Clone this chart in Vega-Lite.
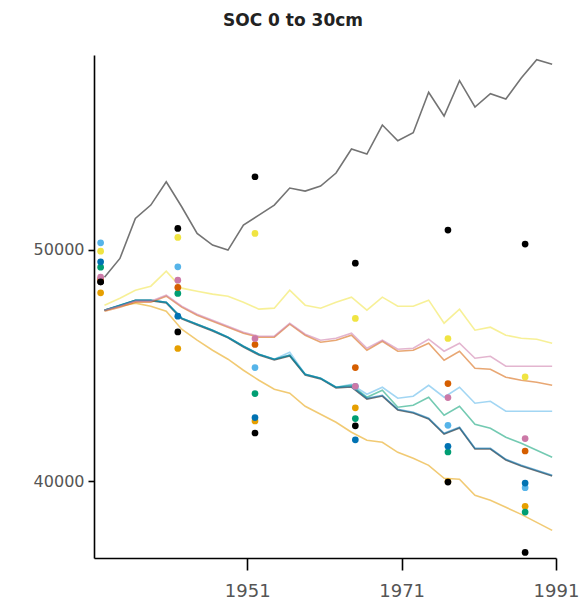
{
  "$schema": "https://vega.github.io/schema/vega-lite/v6.json",
  "width": 462,
  "height": 503,
  "autosize": "none",
  "padding": {"left": 94, "top": 55, "right": 27, "bottom": 52},
  "background": "white",
  "title": {"text": "SOC 0 to 30cm", "font": "DejaVu Sans", "fontSize": 17, "fontWeight": "bold", "color": "#222222", "anchor": "middle", "dx": -32, "offset": 25},
  "config": {
    "view": {"stroke": null},
    "axis": {"grid": false, "domainColor": "#000000", "domainWidth": 1.6, "tickColor": "#000000", "tickWidth": 1.6, "labelFont": "DejaVu Sans", "labelColor": "#555555", "title": null}
  },
  "datasets": {
    "lines": [
      {"s":"s9","t":1932.5,"v":47386},{"s":"s9","t":1934.5,"v":47580},{"s":"s9","t":1936.5,"v":47800},{"s":"s9","t":1938.5,"v":47800},{"s":"s9","t":1940.5,"v":47700},{"s":"s9","t":1942.5,"v":47010},{"s":"s9","t":1944.5,"v":46750},{"s":"s9","t":1946.5,"v":46490},{"s":"s9","t":1948.5,"v":46190},{"s":"s9","t":1950.5,"v":45800},{"s":"s9","t":1952.5,"v":45450},{"s":"s9","t":1954.5,"v":45240},{"s":"s9","t":1956.5,"v":45410},{"s":"s9","t":1958.5,"v":44590},{"s":"s9","t":1960.5,"v":44420},{"s":"s9","t":1962.5,"v":44030},{"s":"s9","t":1964.5,"v":44070},{"s":"s9","t":1966.5,"v":43550},{"s":"s9","t":1968.5,"v":43680},{"s":"s9","t":1970.5,"v":43080},{"s":"s9","t":1972.5,"v":42950},{"s":"s9","t":1974.5,"v":42690},{"s":"s9","t":1976.5,"v":42040},{"s":"s9","t":1978.5,"v":42300},{"s":"s9","t":1980.5,"v":41395},{"s":"s9","t":1982.5,"v":41395},{"s":"s9","t":1984.5,"v":40920},{"s":"s9","t":1986.5,"v":40660},{"s":"s9","t":1988.5,"v":40445},{"s":"s9","t":1990.5,"v":40230},
      {"s":"s1","t":1932.5,"v":48812},{"s":"s1","t":1934.5,"v":49620},{"s":"s1","t":1936.5,"v":51348},{"s":"s1","t":1938.5,"v":51922},{"s":"s1","t":1940.5,"v":52929},{"s":"s1","t":1942.5,"v":51849},{"s":"s1","t":1944.5,"v":50700},{"s":"s1","t":1946.5,"v":50194},{"s":"s1","t":1948.5,"v":49978},{"s":"s1","t":1950.5,"v":51058},{"s":"s1","t":1952.5,"v":51490},{"s":"s1","t":1954.5,"v":51922},{"s":"s1","t":1956.5,"v":52657},{"s":"s1","t":1958.5,"v":52527},{"s":"s1","t":1960.5,"v":52743},{"s":"s1","t":1962.5,"v":53305},{"s":"s1","t":1964.5,"v":54341},{"s":"s1","t":1966.5,"v":54125},{"s":"s1","t":1968.5,"v":55378},{"s":"s1","t":1970.5,"v":54700},{"s":"s1","t":1972.5,"v":55045},{"s":"s1","t":1974.5,"v":56790},{"s":"s1","t":1976.5,"v":55767},{"s":"s1","t":1978.5,"v":57292},{"s":"s1","t":1980.5,"v":56156},{"s":"s1","t":1982.5,"v":56730},{"s":"s1","t":1984.5,"v":56501},{"s":"s1","t":1986.5,"v":57408},{"s":"s1","t":1988.5,"v":58199},{"s":"s1","t":1990.5,"v":58000},
      {"s":"s2","t":1932.5,"v":47386},{"s":"s2","t":1934.5,"v":47559},{"s":"s2","t":1936.5,"v":47689},{"s":"s2","t":1938.5,"v":47559},{"s":"s2","t":1940.5,"v":47343},{"s":"s2","t":1942.5,"v":46565},{"s":"s2","t":1944.5,"v":46090},{"s":"s2","t":1946.5,"v":45658},{"s":"s2","t":1948.5,"v":45270},{"s":"s2","t":1950.5,"v":44794},{"s":"s2","t":1952.5,"v":44362},{"s":"s2","t":1954.5,"v":43974},{"s":"s2","t":1956.5,"v":43801},{"s":"s2","t":1958.5,"v":43239},{"s":"s2","t":1960.5,"v":42894},{"s":"s2","t":1962.5,"v":42548},{"s":"s2","t":1964.5,"v":42116},{"s":"s2","t":1966.5,"v":41770},{"s":"s2","t":1968.5,"v":41684},{"s":"s2","t":1970.5,"v":41252},{"s":"s2","t":1972.5,"v":40993},{"s":"s2","t":1974.5,"v":40690},{"s":"s2","t":1976.5,"v":40129},{"s":"s2","t":1978.5,"v":40086},{"s":"s2","t":1980.5,"v":39394},{"s":"s2","t":1982.5,"v":39178},{"s":"s2","t":1984.5,"v":38876},{"s":"s2","t":1986.5,"v":38574},{"s":"s2","t":1988.5,"v":38228},{"s":"s2","t":1990.5,"v":37882},
      {"s":"s3","t":1932.5,"v":47386},{"s":"s3","t":1934.5,"v":47602},{"s":"s3","t":1936.5,"v":47818},{"s":"s3","t":1938.5,"v":47818},{"s":"s3","t":1940.5,"v":47732},{"s":"s3","t":1942.5,"v":47041},{"s":"s3","t":1944.5,"v":46782},{"s":"s3","t":1946.5,"v":46522},{"s":"s3","t":1948.5,"v":46220},{"s":"s3","t":1950.5,"v":45831},{"s":"s3","t":1952.5,"v":45486},{"s":"s3","t":1954.5,"v":45270},{"s":"s3","t":1956.5,"v":45572},{"s":"s3","t":1958.5,"v":44622},{"s":"s3","t":1960.5,"v":44449},{"s":"s3","t":1962.5,"v":44060},{"s":"s3","t":1964.5,"v":44190},{"s":"s3","t":1966.5,"v":43758},{"s":"s3","t":1968.5,"v":44060},{"s":"s3","t":1970.5,"v":43585},{"s":"s3","t":1972.5,"v":43671},{"s":"s3","t":1974.5,"v":44146},{"s":"s3","t":1976.5,"v":43628},{"s":"s3","t":1978.5,"v":44060},{"s":"s3","t":1980.5,"v":43369},{"s":"s3","t":1982.5,"v":43455},{"s":"s3","t":1984.5,"v":43023},{"s":"s3","t":1986.5,"v":43023},{"s":"s3","t":1988.5,"v":43023},{"s":"s3","t":1990.5,"v":43023},
      {"s":"s4","t":1932.5,"v":47386},{"s":"s4","t":1934.5,"v":47602},{"s":"s4","t":1936.5,"v":47818},{"s":"s4","t":1938.5,"v":47818},{"s":"s4","t":1940.5,"v":47732},{"s":"s4","t":1942.5,"v":47041},{"s":"s4","t":1944.5,"v":46782},{"s":"s4","t":1946.5,"v":46522},{"s":"s4","t":1948.5,"v":46220},{"s":"s4","t":1950.5,"v":45831},{"s":"s4","t":1952.5,"v":45486},{"s":"s4","t":1954.5,"v":45270},{"s":"s4","t":1956.5,"v":45442},{"s":"s4","t":1958.5,"v":44622},{"s":"s4","t":1960.5,"v":44449},{"s":"s4","t":1962.5,"v":44060},{"s":"s4","t":1964.5,"v":44146},{"s":"s4","t":1966.5,"v":43628},{"s":"s4","t":1968.5,"v":43930},{"s":"s4","t":1970.5,"v":43196},{"s":"s4","t":1972.5,"v":43282},{"s":"s4","t":1974.5,"v":43628},{"s":"s4","t":1976.5,"v":42850},{"s":"s4","t":1978.5,"v":43239},{"s":"s4","t":1980.5,"v":42462},{"s":"s4","t":1982.5,"v":42289},{"s":"s4","t":1984.5,"v":41900},{"s":"s4","t":1986.5,"v":41641},{"s":"s4","t":1988.5,"v":41338},{"s":"s4","t":1990.5,"v":41036},
      {"s":"s5","t":1932.5,"v":47602},{"s":"s5","t":1934.5,"v":47905},{"s":"s5","t":1936.5,"v":48250},{"s":"s5","t":1938.5,"v":48423},{"s":"s5","t":1940.5,"v":49071},{"s":"s5","t":1942.5,"v":48337},{"s":"s5","t":1944.5,"v":48207},{"s":"s5","t":1946.5,"v":48078},{"s":"s5","t":1948.5,"v":47991},{"s":"s5","t":1950.5,"v":47732},{"s":"s5","t":1952.5,"v":47430},{"s":"s5","t":1954.5,"v":47473},{"s":"s5","t":1956.5,"v":48250},{"s":"s5","t":1958.5,"v":47602},{"s":"s5","t":1960.5,"v":47473},{"s":"s5","t":1962.5,"v":47732},{"s":"s5","t":1964.5,"v":47948},{"s":"s5","t":1966.5,"v":47386},{"s":"s5","t":1968.5,"v":47948},{"s":"s5","t":1970.5,"v":47559},{"s":"s5","t":1972.5,"v":47559},{"s":"s5","t":1974.5,"v":47818},{"s":"s5","t":1976.5,"v":46825},{"s":"s5","t":1978.5,"v":47430},{"s":"s5","t":1980.5,"v":46522},{"s":"s5","t":1982.5,"v":46652},{"s":"s5","t":1984.5,"v":46306},{"s":"s5","t":1986.5,"v":46177},{"s":"s5","t":1988.5,"v":46134},{"s":"s5","t":1990.5,"v":45961},
      {"s":"s6","t":1932.5,"v":47386},{"s":"s6","t":1934.5,"v":47602},{"s":"s6","t":1936.5,"v":47818},{"s":"s6","t":1938.5,"v":47818},{"s":"s6","t":1940.5,"v":47732},{"s":"s6","t":1942.5,"v":47041},{"s":"s6","t":1944.5,"v":46782},{"s":"s6","t":1946.5,"v":46522},{"s":"s6","t":1948.5,"v":46220},{"s":"s6","t":1950.5,"v":45831},{"s":"s6","t":1952.5,"v":45486},{"s":"s6","t":1954.5,"v":45270},{"s":"s6","t":1956.5,"v":45442},{"s":"s6","t":1958.5,"v":44622},{"s":"s6","t":1960.5,"v":44449},{"s":"s6","t":1962.5,"v":44060},{"s":"s6","t":1964.5,"v":44103},{"s":"s6","t":1966.5,"v":43585},{"s":"s6","t":1968.5,"v":43714},{"s":"s6","t":1970.5,"v":43110},{"s":"s6","t":1972.5,"v":42980},{"s":"s6","t":1974.5,"v":42721},{"s":"s6","t":1976.5,"v":42073},{"s":"s6","t":1978.5,"v":42332},{"s":"s6","t":1980.5,"v":41425},{"s":"s6","t":1982.5,"v":41425},{"s":"s6","t":1984.5,"v":40950},{"s":"s6","t":1986.5,"v":40690},{"s":"s6","t":1988.5,"v":40474},{"s":"s6","t":1990.5,"v":40258},
      {"s":"s7","t":1932.5,"v":47343},{"s":"s7","t":1934.5,"v":47516},{"s":"s7","t":1936.5,"v":47732},{"s":"s7","t":1938.5,"v":47732},{"s":"s7","t":1940.5,"v":47991},{"s":"s7","t":1942.5,"v":47516},{"s":"s7","t":1944.5,"v":47170},{"s":"s7","t":1946.5,"v":46911},{"s":"s7","t":1948.5,"v":46652},{"s":"s7","t":1950.5,"v":46393},{"s":"s7","t":1952.5,"v":46220},{"s":"s7","t":1954.5,"v":46220},{"s":"s7","t":1956.5,"v":46782},{"s":"s7","t":1958.5,"v":46306},{"s":"s7","t":1960.5,"v":46004},{"s":"s7","t":1962.5,"v":46090},{"s":"s7","t":1964.5,"v":46306},{"s":"s7","t":1966.5,"v":45658},{"s":"s7","t":1968.5,"v":46047},{"s":"s7","t":1970.5,"v":45615},{"s":"s7","t":1972.5,"v":45658},{"s":"s7","t":1974.5,"v":45961},{"s":"s7","t":1976.5,"v":45226},{"s":"s7","t":1978.5,"v":45615},{"s":"s7","t":1980.5,"v":44881},{"s":"s7","t":1982.5,"v":44838},{"s":"s7","t":1984.5,"v":44492},{"s":"s7","t":1986.5,"v":44362},{"s":"s7","t":1988.5,"v":44276},{"s":"s7","t":1990.5,"v":44146},
      {"s":"s8","t":1932.5,"v":47386},{"s":"s8","t":1934.5,"v":47559},{"s":"s8","t":1936.5,"v":47775},{"s":"s8","t":1938.5,"v":47775},{"s":"s8","t":1940.5,"v":48034},{"s":"s8","t":1942.5,"v":47559},{"s":"s8","t":1944.5,"v":47214},{"s":"s8","t":1946.5,"v":46954},{"s":"s8","t":1948.5,"v":46695},{"s":"s8","t":1950.5,"v":46436},{"s":"s8","t":1952.5,"v":46263},{"s":"s8","t":1954.5,"v":46263},{"s":"s8","t":1956.5,"v":46825},{"s":"s8","t":1958.5,"v":46350},{"s":"s8","t":1960.5,"v":46090},{"s":"s8","t":1962.5,"v":46177},{"s":"s8","t":1964.5,"v":46393},{"s":"s8","t":1966.5,"v":45745},{"s":"s8","t":1968.5,"v":46090},{"s":"s8","t":1970.5,"v":45702},{"s":"s8","t":1972.5,"v":45745},{"s":"s8","t":1974.5,"v":46134},{"s":"s8","t":1976.5,"v":45615},{"s":"s8","t":1978.5,"v":45961},{"s":"s8","t":1980.5,"v":45313},{"s":"s8","t":1982.5,"v":45399},{"s":"s8","t":1984.5,"v":44967},{"s":"s8","t":1986.5,"v":44967},{"s":"s8","t":1988.5,"v":44967},{"s":"s8","t":1990.5,"v":44967}
    ],
    "pts": [
      {"s":"s1","t":1932,"v":48609},{"s":"s1","t":1942,"v":50916},{"s":"s1","t":1952,"v":53145},{"s":"s1","t":1965,"v":49417},{"s":"s1","t":1977,"v":50842},{"s":"s1","t":1987,"v":50238},
      {"s":"s2","t":1932,"v":48134},{"s":"s2","t":1942,"v":45732},{"s":"s2","t":1952,"v":42604},{"s":"s2","t":1965,"v":43174},{"s":"s2","t":1977,"v":39990},{"s":"s2","t":1987,"v":38919},
      {"s":"s3","t":1932,"v":50294},{"s":"s3","t":1942,"v":49257},{"s":"s3","t":1952,"v":44911},{"s":"s3","t":1965,"v":44103},{"s":"s3","t":1977,"v":42418},{"s":"s3","t":1987,"v":39727},
      {"s":"s4","t":1932,"v":49244},{"s":"s4","t":1942,"v":48108},{"s":"s4","t":1952,"v":43788},{"s":"s4","t":1965,"v":42708},{"s":"s4","t":1977,"v":41265},{"s":"s4","t":1987,"v":38673},
      {"s":"s5","t":1932,"v":49935},{"s":"s5","t":1942,"v":50527},{"s":"s5","t":1952,"v":50700},{"s":"s5","t":1965,"v":47028},{"s":"s5","t":1977,"v":46164},{"s":"s5","t":1987,"v":44505},
      {"s":"s6","t":1932,"v":49473},{"s":"s6","t":1942,"v":47127},{"s":"s6","t":1952,"v":42751},{"s":"s6","t":1965,"v":41792},{"s":"s6","t":1977,"v":41511},{"s":"s6","t":1987,"v":39926},
      {"s":"s7","t":1932,"v":48726},{"s":"s7","t":1942,"v":48367},{"s":"s7","t":1952,"v":45905},{"s":"s7","t":1965,"v":44911},{"s":"s7","t":1977,"v":44220},{"s":"s7","t":1987,"v":41308},
      {"s":"s8","t":1932,"v":48812},{"s":"s8","t":1942,"v":48682},{"s":"s8","t":1952,"v":46164},{"s":"s8","t":1965,"v":44103},{"s":"s8","t":1977,"v":43615},{"s":"s8","t":1987,"v":41844},
      {"s":"s9","t":1932,"v":48609},{"s":"s9","t":1942,"v":46449},{"s":"s9","t":1952,"v":42086},{"s":"s9","t":1965,"v":42397},{"s":"s9","t":1977,"v":39969},{"s":"s9","t":1987,"v":36932}
    ]
  },
  "encoding": {
    "x": {"field": "t", "type": "quantitative", "scale": {"domain": [1931.14, 1991], "nice": false, "zero": false},
          "axis": {"values": [1951, 1971, 1991], "format": "d", "tickSize": 12, "labelPadding": 12, "labelFontSize": 18, "labelFlush": false}},
    "y": {"field": "v", "type": "quantitative", "scale": {"domain": [36690, 58400], "nice": false, "zero": false},
          "axis": {"values": [40000, 50000], "format": "d", "tickSize": 6, "labelPadding": 4, "labelFontSize": 16}},
    "color": {"field": "s", "type": "nominal", "legend": null,
              "scale": {"domain": ["s1","s2","s3","s4","s5","s6","s7","s8","s9"],
                        "range": ["#000000","#E69F00","#56B4E9","#009E73","#F0E442","#0072B2","#D55E00","#CC79A7","#000000"]}}
  },
  "layer": [
    {"data": {"name": "lines"}, "mark": {"type": "line", "strokeWidth": 1.6, "opacity": 0.55}},
    {"data": {"name": "pts"}, "mark": {"type": "circle", "size": 45, "opacity": 1}}
  ]
}
